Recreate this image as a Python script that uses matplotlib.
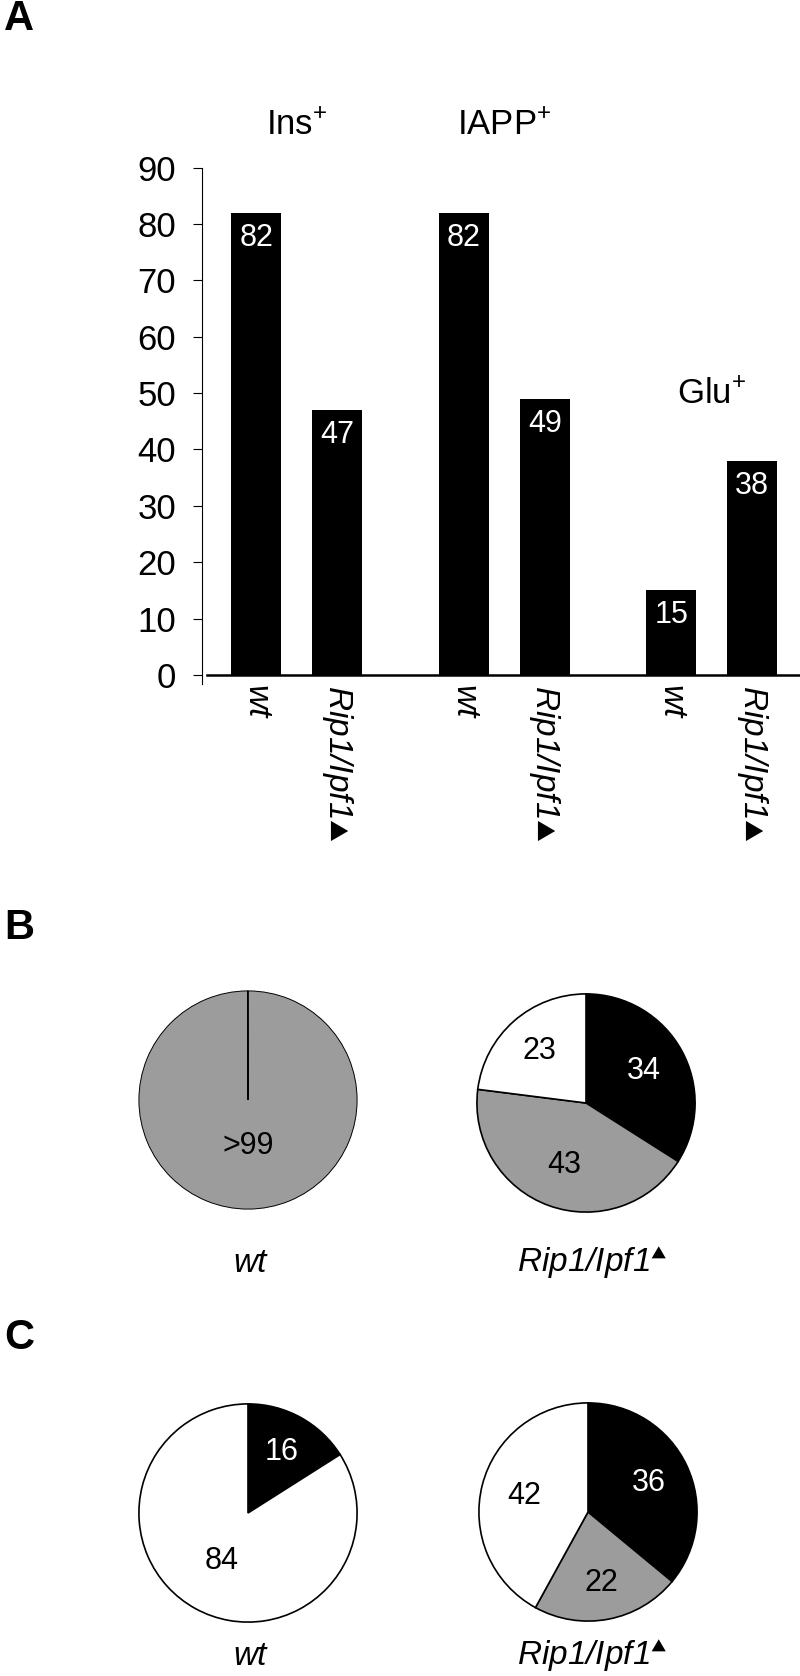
import matplotlib.pyplot as plt
import numpy as np

plt.rcParams['font.family'] = ['Liberation Sans', 'DejaVu Sans']
plt.rcParams['mathtext.fontset'] = 'custom'
plt.rcParams['mathtext.rm'] = 'Liberation Sans'
plt.rcParams['mathtext.it'] = 'Liberation Sans:italic'
plt.rcParams['mathtext.fallback'] = 'stix'

# panel A: % of cells per marker
groups = ['Ins', 'IAPP', 'Glu']
genotypes = ['wt', 'Rip1/Ipf1']
ins_pct = [82, 47]
iapp_pct = [82, 49]
glu_pct = [15, 38]

# panel B / C pies (clockwise from 12 o'clock)
b_wt = [99.95, 0.05]
b_wt_labels = ['>99', '']
b_rip = [34, 43, 23]
c_wt = [16, 84]
c_rip = [36, 22, 42]

BLACK = 'black'
GRAY = '#9c9c9c'
WHITE = 'white'

W, H = 800, 1676
fig = plt.figure(figsize=(W / 100, H / 100), dpi=100)

# tick labels: mutant gets the triangle mark
bar_names = [genotypes[0], genotypes[1] + r'$\blacktriangle$']
pie_names = [genotypes[0], genotypes[1] + r'$^{\blacktriangle}$']

# ---- panel A ----
ax = fig.add_axes([202 / W, 1 - 684 / H, 598 / W, (684 - 167.6) / H])
gap = 2.56
xs_all = []
for g, vals in enumerate([ins_pct, iapp_pct, glu_pct]):
    xs = g * gap + np.arange(len(vals))
    xs_all.extend(xs)
    bars = ax.bar(xs, vals, width=0.62, color=BLACK)
    for b, v in zip(bars, vals):
        ax.annotate(str(v), (b.get_x() + b.get_width() / 2, v), xytext=(0, -18),
                    textcoords='offset points', ha='center', va='center',
                    color='white', fontsize=22)

title_y = [97.4, 97.4, 49.7]
for g, name in enumerate(groups):
    ax.text(g * gap + 0.5, title_y[g], name + '$^{+}$', ha='center', va='center',
            fontsize=25, clip_on=False)

ax.set_xlim(-0.67, 6.71)
ax.set_ylim(-1.6, 90)
ax.set_yticks(range(0, 91, 10))
ax.set_xticks(xs_all)
ax.set_xticklabels(bar_names * 3, rotation=-90, style='italic', fontsize=24)
ax.tick_params(axis='x', length=0, pad=1)
ax.tick_params(axis='y', length=6.5, width=0.8, pad=12, labelsize=25)
for s in ['top', 'right', 'bottom']:
    ax.spines[s].set_visible(False)
ax.spines['left'].set_linewidth(0.8)
ax.axhline(0, xmin=0.008, color=BLACK, lw=1.8)

# ---- pies ----
def draw_pie(cx, cy, vals, cols, labels, dists, lw=1.2):
    pa = fig.add_axes([(cx - 120) / W, 1 - (cy + 120) / H, 240 / W, 240 / H])
    wedges, _ = pa.pie(vals, colors=cols, startangle=90, counterclock=False,
                       wedgeprops=dict(edgecolor=BLACK, linewidth=lw))
    pa.set_xlim(-1.1, 1.1)
    pa.set_ylim(-1.1, 1.1)
    for w, lab, d, c in zip(wedges, labels, dists, cols):
        ang = np.deg2rad((w.theta1 + w.theta2) / 2)
        pa.text(d * np.cos(ang), d * np.sin(ang), lab, ha='center', va='center',
                fontsize=22, color='white' if c == BLACK else 'black')
    return pa


draw_pie(248, 1100, b_wt, [GRAY, GRAY], b_wt_labels, [0.42, 0.6], lw=0.7)
draw_pie(586, 1103, b_rip, [BLACK, GRAY, WHITE], [str(v) for v in b_rip], [0.6, 0.6, 0.64])
draw_pie(248, 1513, c_wt, [BLACK, WHITE], [str(v) for v in c_wt], [0.64, 0.5])
draw_pie(588, 1512, c_rip, [BLACK, GRAY, WHITE], [str(v) for v in c_rip], [0.62, 0.66, 0.6])

for cy in [1263, 1656]:
    fig.text(250 / W, 1 - cy / H, pie_names[0], style='italic', fontsize=24,
             ha='center', va='center')
    fig.text(592 / W, 1 - cy / H, pie_names[1], style='italic', fontsize=24,
             ha='center', va='center')

# panel letters
for letter, ly in [('A', 19), ('B', 928), ('C', 1338)]:
    fig.text(19 / W, 1 - ly / H, letter, fontsize=30, weight='bold',
             ha='center', va='center')

fig.savefig('out.png', dpi=100)
